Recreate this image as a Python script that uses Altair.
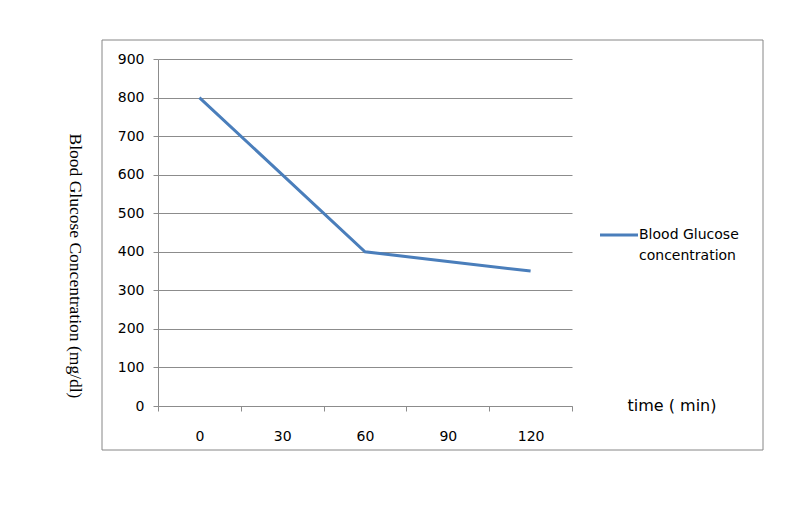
import altair as alt
import pandas as pd

times = ["0", "30", "60", "90", "120"]
glucose = [800, 600, 400, 375, 350]
series_name = ["Blood Glucose", "concentration"]
y_title = "Blood Glucose Concentration (mg/dl)"
x_title = "time ( min)"

df = pd.DataFrame({"time": times, "glucose": glucose})
one = pd.DataFrame({"a": [0]})

W, H = 414, 347
line_color = "#4a7ebb"
grid_color = "#8c8c8c"

x_enc = alt.X("time:O", sort=times, title=None,
              scale=alt.Scale(paddingInner=0, paddingOuter=0),
              axis=alt.Axis(labelAngle=0, tickBand="extent", domainColor=grid_color,
                            tickColor=grid_color, tickSize=5, labelPadding=18,
                            labelFont="DejaVu Sans", labelFontSize=14, labelColor="#000",
                            grid=False))
y_enc = alt.Y("glucose:Q", title=None,
              scale=alt.Scale(domain=[0, 900], nice=False),
              axis=alt.Axis(values=list(range(0, 901, 100)), domainColor=grid_color,
                            tickColor=grid_color, tickSize=5, labelPadding=9,
                            labelFont="DejaVu Sans", labelFontSize=14, labelColor="#000",
                            gridColor=grid_color, gridOpacity=1))

line = alt.Chart(df).mark_line(color=line_color, strokeWidth=3).encode(x=x_enc, y=y_enc)

frame = alt.Chart(one).mark_rect(fill=None, stroke="#868686", strokeWidth=1).encode(
    x=alt.value(-56), x2=alt.value(605), y=alt.value(-19), y2=alt.value(391))

ytitle = alt.Chart(one).mark_text(angle=90, font="Liberation Serif", fontSize=17.5,
                                  color="#000", align="center", baseline="middle").encode(
    x=alt.value(-83), y=alt.value(207), text=alt.value(y_title))

leg_line = alt.Chart(one).mark_rule(color=line_color, strokeWidth=3).encode(
    x=alt.value(442), x2=alt.value(480), y=alt.value(176))
leg_t1 = alt.Chart(one).mark_text(font="DejaVu Sans", fontSize=14, color="#000",
                                  align="left", baseline="middle").encode(
    x=alt.value(481), y=alt.value(176), text=alt.value(series_name[0]))
leg_t2 = alt.Chart(one).mark_text(font="DejaVu Sans", fontSize=14, color="#000",
                                  align="left", baseline="middle").encode(
    x=alt.value(481), y=alt.value(197), text=alt.value(series_name[1]))
xtitle = alt.Chart(one).mark_text(font="DejaVu Sans", fontSize=16, color="#000",
                                  align="center", baseline="middle").encode(
    x=alt.value(514), y=alt.value(347), text=alt.value(x_title))

chart = alt.layer(frame, line, ytitle, leg_line, leg_t1, leg_t2, xtitle).properties(
    width=W, height=H,
    autosize=alt.AutoSizeParams(type="none"),
    padding={"left": 150, "top": 51, "right": 200, "bottom": 80},
    background="white",
).configure_view(stroke=None)

chart.save("out.html", embed_options={"renderer": "svg", "actions": False})
